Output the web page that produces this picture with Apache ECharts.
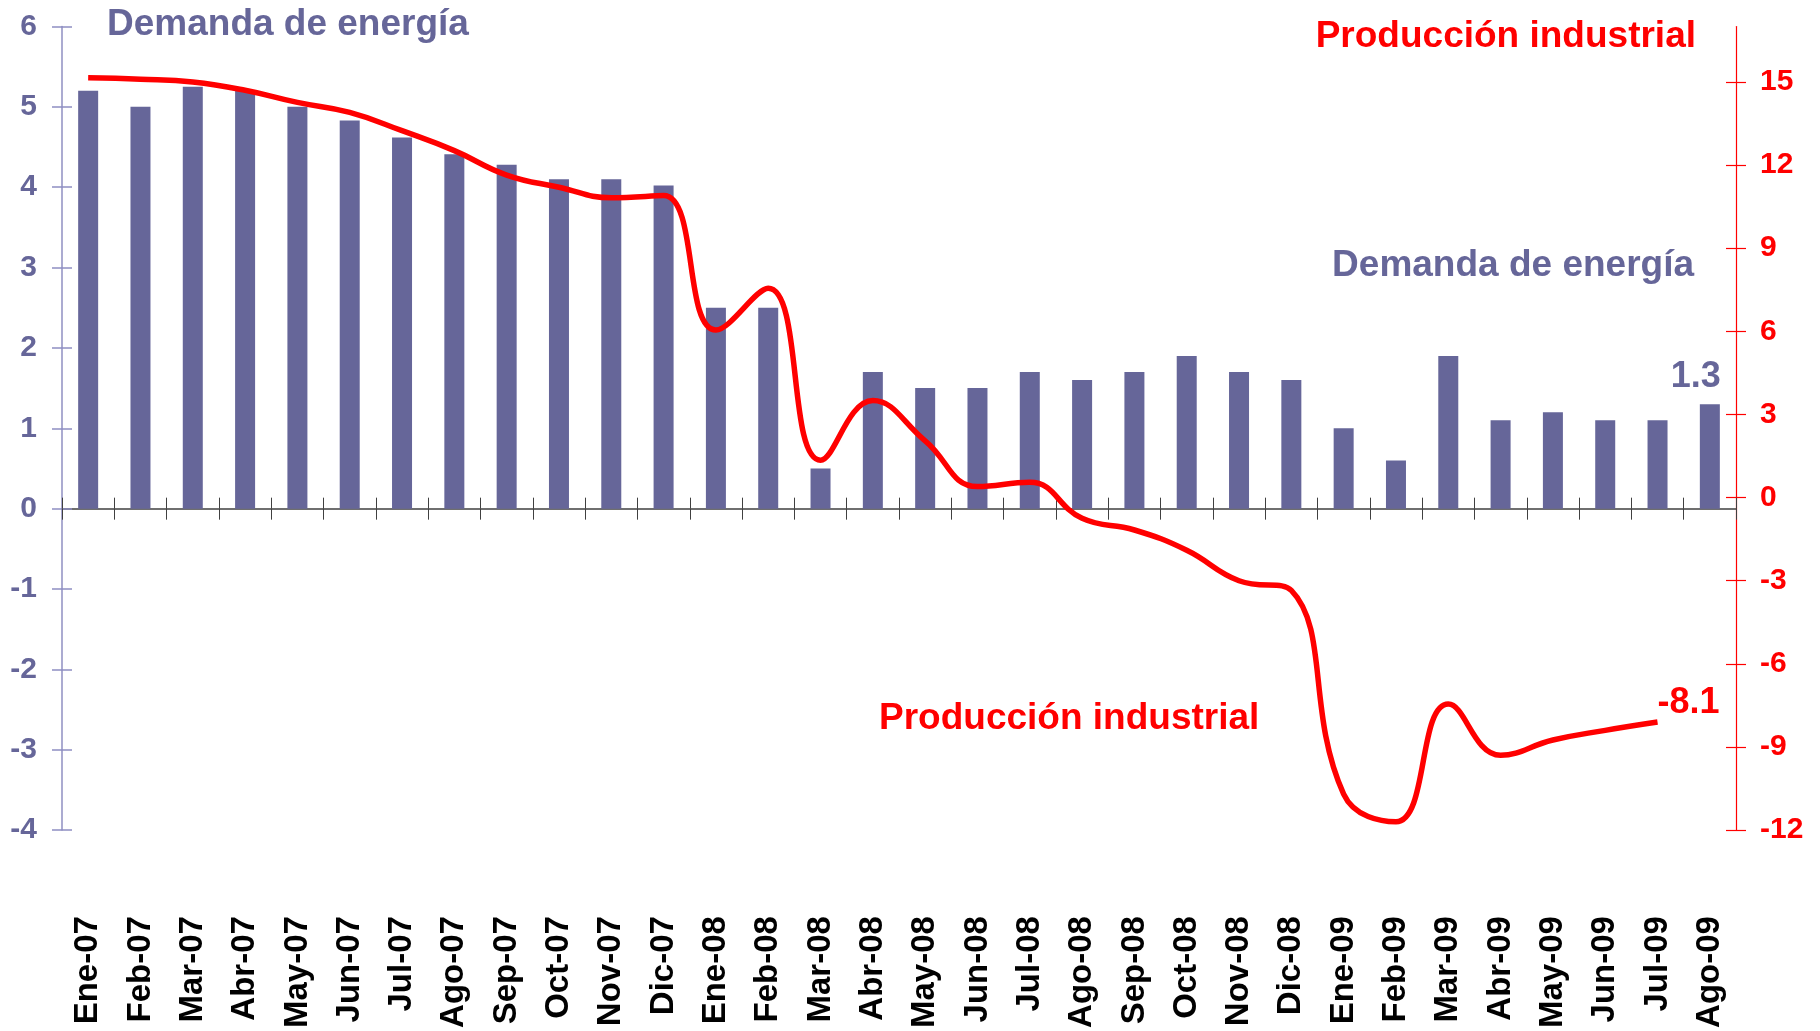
<!DOCTYPE html>
<html>
<head>
<meta charset="utf-8">
<title>Demanda de energía y Producción industrial</title>
<script src="https://cdn.jsdelivr.net/npm/echarts@6/dist/echarts.min.js"></script>
<style>
  html, body { margin: 0; padding: 0; background: #fff; }
  #chart { width: 1820px; height: 1031px; }
</style>
</head>
<body>
<div id="chart"></div>
<script>
var months = [
  'Ene-07', 'Feb-07', 'Mar-07', 'Abr-07', 'May-07', 'Jun-07', 'Jul-07', 'Ago-07',
  'Sep-07', 'Oct-07', 'Nov-07', 'Dic-07',
  'Ene-08', 'Feb-08', 'Mar-08', 'Abr-08', 'May-08', 'Jun-08', 'Jul-08', 'Ago-08',
  'Sep-08', 'Oct-08', 'Nov-08', 'Dic-08',
  'Ene-09', 'Feb-09', 'Mar-09', 'Abr-09', 'May-09', 'Jun-09', 'Jul-09', 'Ago-09'
]

// demanda de energía (eje izquierdo)
var demanda = [
  5.2, 5.0, 5.25, 5.2, 5.0, 4.83, 4.62, 4.41, 4.28, 4.1, 4.1, 4.02,
  2.5, 2.5, 0.5, 1.7, 1.5, 1.5, 1.7, 1.6, 1.7, 1.9, 1.7, 1.6,
  1.0, 0.6, 1.9, 1.1, 1.2, 1.1, 1.1, 1.3
]

// producción industrial (eje derecho), termina en Jul-09
var produccion = [
  15.15, 15.1, 15.0, 14.7, 14.26, 13.9, 13.24, 12.52, 11.64, 11.2, 10.82, 10.9,
  6.05, 7.55, 1.35, 3.5, 2.05, 0.4, 0.55, -0.75, -1.17, -1.9, -3.0, -3.35,
  -10.7, -11.7, -7.45, -9.3, -8.75, -8.4, -8.1
]

var leftTicks = { min: -4, max: 6, interval: 1 }
var rightTicks = [-12, -9, -6, -3, 0, 3, 6, 9, 12, 15]
var rightRange = { min: -12, max: 17 }

var cBar = '#666699'
var cLeftAxis = '#8f8fc2'
var cRed = '#ff0000'
var font = 'Liberation Sans, Arial, sans-serif'

var oChart = echarts.init(document.getElementById('chart'))

var barData = demanda.map(function (v, i) {
  if (i !== demanda.length - 1) return v
  return {
    value: v,
    label: {
      show: true,
      position: 'top',
      distance: 9,
      offset: [-14, 0],
      color: cBar,
      fontSize: 36,
      fontWeight: 'bold',
      fontFamily: font
    }
  }
})

var option = {
  backgroundColor: '#fff',
  animation: false,
  grid: { left: 62, right: 84, top: 26.5, bottom: 199.6, containLabel: false },
  xAxis: [
    {
      type: 'category',
      data: months,
      position: 'bottom',
      axisLine: { onZero: true, onZeroAxisIndex: 0, lineStyle: { color: '#404040', width: 1.5 } },
      axisTick: { show: true, inside: false, length: 11, lineStyle: { color: '#404040' } },
      axisLabel: { show: false },
      splitLine: { show: false }
    },
    {
      type: 'category',
      data: months,
      position: 'top',
      axisLine: { show: false, onZero: true, onZeroAxisIndex: 0 },
      axisTick: { show: true, inside: false, length: 11, lineStyle: { color: '#404040' } },
      axisLabel: { show: false },
      splitLine: { show: false }
    },
    {
      type: 'category',
      data: months,
      position: 'bottom',
      axisLine: { show: false, onZero: false },
      axisTick: { show: false },
      axisLabel: {
        show: true,
        rotate: 90,
        margin: 86,
        interval: 0,
        color: '#000',
        fontSize: 33,
        fontWeight: 'bold',
        fontFamily: font
      },
      splitLine: { show: false }
    }
  ],
  yAxis: [
    {
      type: 'value',
      position: 'left',
      min: leftTicks.min,
      max: leftTicks.max,
      interval: leftTicks.interval,
      axisLine: { show: true, lineStyle: { color: cLeftAxis, width: 1.5 } },
      axisTick: { show: true, inside: false, length: 10, lineStyle: { color: cLeftAxis, width: 1.5 } },
      axisLabel: { color: cBar, fontSize: 30, fontWeight: 'bold', fontFamily: font, margin: 25 },
      splitLine: { show: false }
    },
    {
      type: 'value',
      position: 'right',
      min: rightRange.min,
      max: rightRange.max,
      interval: 3,
      axisLine: { show: true, lineStyle: { color: cRed, width: 1.2 } },
      axisTick: { show: true, inside: false, length: 10, customValues: rightTicks, lineStyle: { color: cRed, width: 1.2 } },
      axisLabel: {
        color: cRed, fontSize: 30, fontWeight: 'bold', fontFamily: font, margin: 24,
        customValues: rightTicks
      },
      splitLine: { show: false }
    },
    {
      type: 'value',
      position: 'left',
      min: leftTicks.min,
      max: leftTicks.max,
      interval: leftTicks.interval,
      axisLine: { show: false },
      axisTick: { show: true, inside: true, length: 10, lineStyle: { color: cLeftAxis, width: 1.5 } },
      axisLabel: { show: false },
      splitLine: { show: false }
    },
    {
      type: 'value',
      position: 'right',
      min: rightRange.min,
      max: rightRange.max,
      interval: 3,
      axisLine: { show: false },
      axisTick: { show: true, inside: true, length: 10, customValues: rightTicks, lineStyle: { color: cRed, width: 1.2 } },
      axisLabel: { show: false },
      splitLine: { show: false }
    }
  ],
  series: [
    {
      name: 'Demanda de energía',
      type: 'bar',
      xAxisIndex: 0,
      yAxisIndex: 0,
      barWidth: 20,
      itemStyle: { color: cBar },
      data: barData,
      z: 2
    },
    {
      name: 'Producción industrial',
      type: 'line',
      xAxisIndex: 0,
      yAxisIndex: 1,
      smooth: 0.45,
      symbol: 'none',
      lineStyle: { color: cRed, width: 5.5 },
      endLabel: {
        show: true,
        color: cRed,
        fontSize: 36,
        fontWeight: 'bold',
        fontFamily: font,
        distance: 0,
        offset: [0, -19],
        formatter: function (p) { return String(p.value) }
      },
      data: produccion,
      z: 3
    }
  ],
  graphic: [
    {
      type: 'text', left: 107, top: 6,
      style: { text: 'Demanda de energía', fill: cBar, font: 'bold 37px ' + font }
    },
    {
      type: 'text', right: 124, top: 18,
      style: { text: 'Producción industrial', fill: cRed, font: 'bold 37px ' + font }
    },
    {
      type: 'text', right: 126, top: 247,
      style: { text: 'Demanda de energía', fill: cBar, font: 'bold 37px ' + font }
    },
    {
      type: 'text', left: 879, top: 700,
      style: { text: 'Producción industrial', fill: cRed, font: 'bold 37px ' + font }
    }
  ]
}

oChart.setOption(option)
</script>
</body>
</html>
